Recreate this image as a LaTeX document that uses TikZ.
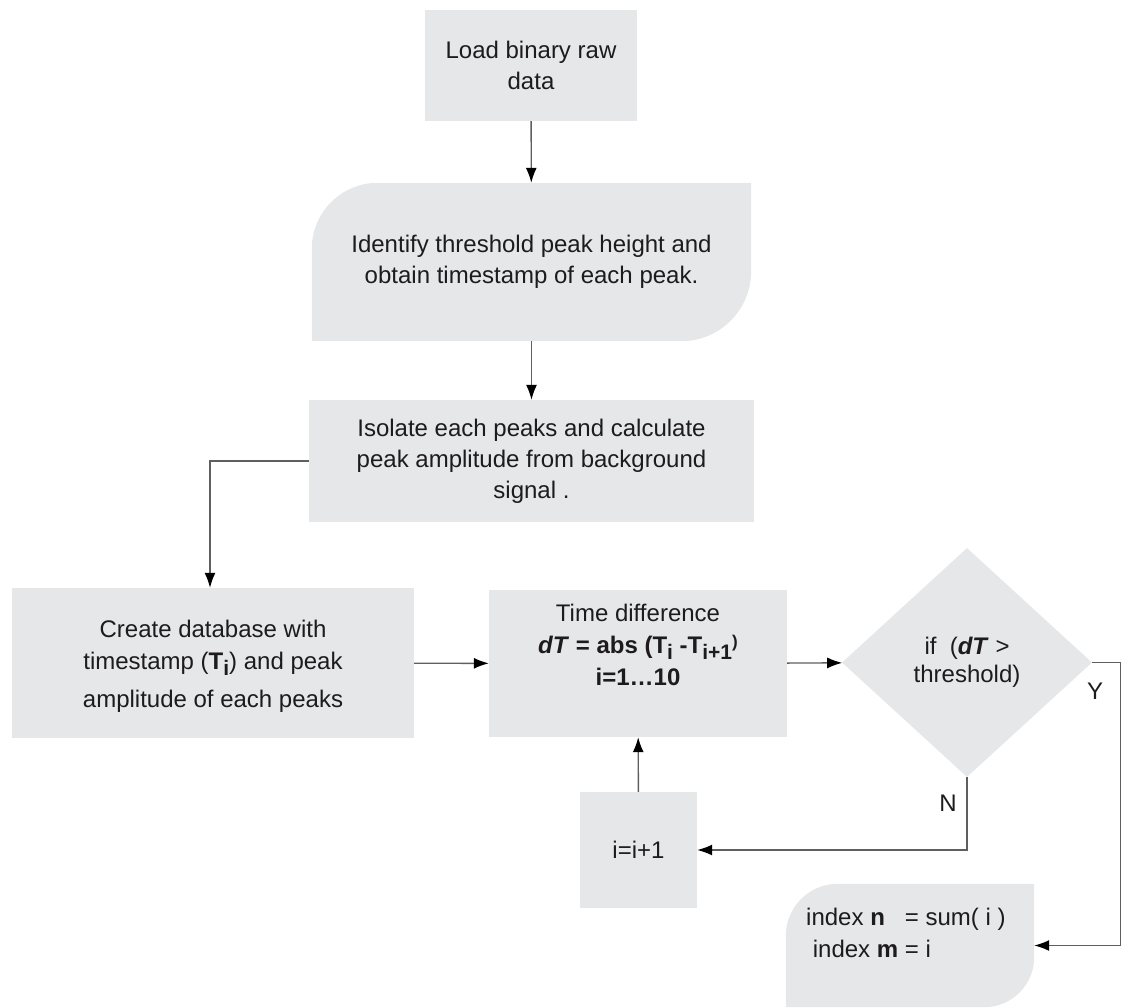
\documentclass[tikz,border=0pt]{standalone}
\usepackage{fontspec}
\setmainfont{Liberation Sans}
\usepackage{tikz}
\usetikzlibrary{shapes.geometric, arrows.meta, positioning, backgrounds}
\definecolor{boxgray}{RGB}{229, 231, 232}
\definecolor{linegray}{RGB}{95, 95, 95}
\definecolor{textdark}{RGB}{30, 27, 28}
\newcommand{\lowidx}[1]{\raisebox{-0.5ex}{\fontsize{21}{21}\selectfont #1}}
\newcommand{\smallparen}{\raisebox{0.45ex}{\fontsize{17}{17}\selectfont )}}

\begin{document}
\begin{tikzpicture}[x=1pt, y=1pt,
    box/.style={rectangle, fill=boxgray, inner sep=0pt, align=center,
                text=textdark, font=\fontsize{24}{31}\selectfont},
    curvebox/.style={rectangle, inner sep=0pt, align=center,
                     text=textdark, font=\fontsize{24}{31}\selectfont},
    boxtext/.style={inner sep=0pt, align=center, text=textdark,
                    font=\fontsize{24}{32}\selectfont},
    decision/.style={diamond, fill=boxgray, inner sep=0pt, align=center,
                     minimum width=250pt, minimum height=229pt,
                     text=textdark, font=\fontsize{24}{28}\selectfont},
    arr/.style={-{Latex[length=15pt, width=11pt, black]}, line width=1.4pt, color=linegray},
    lbl/.style={text=textdark, font=\fontsize{24}{28}\selectfont}
]
\useasboundingbox (0,0) rectangle (1122,-1007);

\node[box, minimum width=212pt, minimum height=111pt] (load) at (531,-65.5) {Load binary raw\\data};
\node[curvebox, minimum width=439pt, minimum height=158pt] (ident) at (531.5,-262) {Identify threshold peak height and\\obtain timestamp of each peak.};
\node[box, minimum width=445pt, minimum height=122pt] (isolate) at (531.5,-461) {Isolate each peaks and calculate\\peak amplitude from background\\signal .};
\node[box, minimum width=402pt, minimum height=150pt] (create) at (213,-663) {};
\node[boxtext] (createtxt) at (213,-666) {Create database with\\timestamp (\textbf{T\lowidx{i}}) and peak\\[6pt]amplitude of each peaks};
\node[box, minimum width=298pt, minimum height=147pt] (timed) at (638,-663.5) {};
\node[boxtext] (timedtxt) at (638,-645) {Time difference\\\textbf{\textit{dT} = abs (T\lowidx{i} -T\lowidx{i+1}\smallparen}\\\textbf{i=1\ldots10}};
\node[decision] (cond) at (967,-662.5) {if~~(\textbf{\textit{dT}} >\\threshold)};
\node[box, minimum width=117pt, minimum height=116pt] (incr) at (638.5,-850) {i=i+1};
\node[curvebox, minimum width=248pt, minimum height=123pt] (result) at (910,-945.5) {};
\node[boxtext, align=left, anchor=west] (resulttxt) at (806,-933) {index \textbf{n}~~~= sum( i )\\\ index \textbf{m} = i};

\node[lbl] (ylbl) at (1095,-691) {Y};
\node[lbl] (nlbl) at (948,-803) {N};

% rounded shapes
\begin{scope}[on background layer]
\fill[boxgray] ([yshift=-66pt]ident.north west) arc[start angle=180, end angle=90, radius=66pt]
    -- (ident.north east) -- ([yshift=70pt]ident.south east)
    arc[start angle=0, end angle=-90, radius=70pt] -- (ident.south west) -- cycle;
\fill[boxgray] ([yshift=-52pt]result.north west) arc[start angle=180, end angle=90, radius=52pt]
    -- (result.north east) -- ([yshift=50pt]result.south east)
    arc[start angle=0, end angle=-90, radius=50pt] -- (result.south west) -- cycle;
\end{scope}

\draw[arr] (load) -- (ident);
\draw[arr] (ident) -- (isolate);
\draw[arr] (isolate.west) -| ([xshift=-3pt]create.north);
\draw[arr] (create) -- (timed);
\draw[arr] (timed) -- (cond);
\draw[arr] (cond.east) -- ++(28,0) |- (result.east);
\draw[arr] (cond.south) |- (incr.east);
\draw[arr] (incr) -- (timed);

\end{tikzpicture}
\end{document}
